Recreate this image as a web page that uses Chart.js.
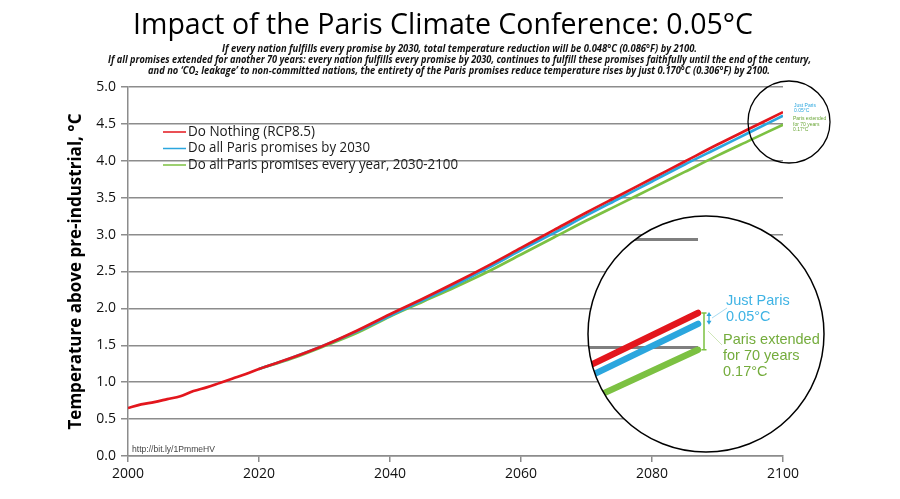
<!DOCTYPE html>
<html>
<head>
<meta charset="utf-8">
<script src="https://cdn.jsdelivr.net/npm/chart.js@4.4.1/dist/chart.umd.min.js"></script>
<style>
html, body { margin: 0; padding: 0; background: #fff; }
canvas { display: block; }
</style>
</head>
<body>
<canvas id="chart" width="900" height="499"></canvas>
<script>
// values
const years = [2000, 2002, 2004, 2006, 2008, 2010, 2012, 2014, 2016, 2018, 2020,
  2025, 2030, 2035, 2040, 2045, 2050, 2055, 2060, 2065, 2070, 2075, 2080, 2085, 2090, 2095, 2100]
const doNothing = [0.65, 0.70, 0.73, 0.77, 0.81, 0.88, 0.93, 0.99, 1.05, 1.11, 1.18,
  1.33, 1.50, 1.70, 1.92, 2.13, 2.35, 2.58, 2.82, 3.06, 3.30, 3.53, 3.76, 3.99, 4.22, 4.44, 4.66]
const parisBy2030 = [null, null, null, null, null, null, null, null, null, null, 1.18,
  1.33, 1.50, 1.69, 1.90, 2.11, 2.32, 2.55, 2.79, 3.02, 3.26, 3.49, 3.72, 3.95, 4.17, 4.39, 4.61]
const parisEveryYear = [null, null, null, null, null, null, null, null, null, null, 1.18,
  1.32, 1.49, 1.67, 1.89, 2.09, 2.29, 2.50, 2.73, 2.96, 3.19, 3.41, 3.63, 3.85, 4.07, 4.28, 4.49]

const seriesNames = ['Do Nothing (RCP8.5)', 'Do all Paris promises by 2030', 'Do all Paris promises every year, 2030-2100']
const seriesColors = ['#e3161d', '#2ba6de', '#7cc142']
const yMin = 0, yMax = 5, yStep = 0.5
const xMin = 2000, xMax = 2100, xStep = 20

const titleText = 'Impact of the Paris Climate Conference: 0.05°C'
const subLines = [
  'If every nation fulfills every promise by 2030, total temperature reduction will be 0.048°C (0.086°F) by 2100.',
  'If all promises extended for another 70 years: every nation fulfills every promise by 2030, continues to fulfill these promises faithfully until the end of the century,',
  'and no ‘CO₂ leakage’ to non-committed nations, the entirety of the Paris promises reduce temperature rises by just 0.170°C (0.306°F) by 2100.'
]
const yTitle = 'Temperature above pre-industrial, °C'
const sourceUrl = 'http://bit.ly/1PmmeHV'
const justParis = ['Just Paris', '0.05°C']
const extended = ['Paris extended', 'for 70 years', '0.17°C']
// magnified grid stubs inside the big circle: [value, first year shown]
const insetGrid = [[5.0, 2096.5], [4.5, 2094.4]]

const FONT = "'Open Sans', 'Noto Sans', sans-serif"
const ARIAL = "'Liberation Sans', Arial, sans-serif"

const toPoints = vals => years.map((x, i) => ({ x, y: vals[i] })).filter(p => p.y !== null)

// draw text squeezed / stretched to a target width
function fitText(ctx, text, x, y, w, font, color, align) {
  ctx.save()
  ctx.font = font
  ctx.fillStyle = color
  ctx.textBaseline = 'middle'
  const m = ctx.measureText(text).width
  ctx.translate(x, y)
  ctx.scale(w / m, 1)
  ctx.textAlign = align || 'center'
  ctx.fillText(text, 0, 0)
  ctx.restore()
}

const decorations = {
  id: 'decorations',
  afterDraw(chart) {
    const ctx = chart.ctx
    const xs = chart.scales.x, ys = chart.scales.y
    const area = chart.chartArea

    // title and notes
    fitText(ctx, titleText, 443, 25, 620, '30px ' + FONT, '#000')
    fitText(ctx, subLines[0], 459.5, 49, 475, 'italic bold 10px ' + FONT, '#111')
    fitText(ctx, subLines[1], 459.5, 60.5, 703, 'italic bold 10px ' + FONT, '#111')
    fitText(ctx, subLines[2], 459, 71.5, 622, 'italic bold 10px ' + FONT, '#111')

    // y axis title
    ctx.save()
    ctx.translate(76, (area.top + area.bottom) / 2)
    ctx.rotate(-Math.PI / 2)
    fitText(ctx, yTitle, 0, 0, 316, 'bold 17px ' + FONT, '#000')
    ctx.restore()

    // legend inside plot
    const legendEnds = [315, 370, 458]
    seriesNames.forEach((name, i) => {
      const ly = 132 + i * 16.5
      ctx.strokeStyle = seriesColors[i]
      ctx.lineWidth = 1.5
      ctx.beginPath()
      ctx.moveTo(163, ly)
      ctx.lineTo(186, ly)
      ctx.stroke()
      fitText(ctx, name, 188, ly, legendEnds[i] - 188, '14px ' + FONT, '#1a1a1a', 'left')
    })

    fitText(ctx, sourceUrl, 132, 450, 83, '9px ' + ARIAL, '#444', 'left')

    // small circle at the end of the lines
    ctx.strokeStyle = '#000'
    ctx.lineWidth = 1.3
    ctx.beginPath()
    ctx.arc(789, 122, 41, 0, Math.PI * 2)
    ctx.stroke()
    ctx.font = '5px ' + ARIAL
    ctx.textAlign = 'left'
    ctx.textBaseline = 'middle'
    ctx.fillStyle = seriesColors[1]
    justParis.forEach((t, i) => ctx.fillText(t, 794, 105.5 + i * 5.5))
    ctx.fillStyle = '#6aa637'
    extended.forEach((t, i) => ctx.fillText(t, 793, 119 + i * 5.5))

    // magnified view
    const cx = 706, cy = 334, r = 118
    const ax = 698, ay = 313, mx = 3, my = 2.93
    const sx = xs.getPixelForValue(years[years.length - 1])
    const sy = ys.getPixelForValue(doNothing[doNothing.length - 1])
    const map = (yr, v) => [ax + (xs.getPixelForValue(yr) - sx) * mx, ay + (ys.getPixelForValue(v) - sy) * my]

    ctx.save()
    ctx.beginPath()
    ctx.arc(cx, cy, r, 0, Math.PI * 2)
    ctx.fillStyle = '#fff'
    ctx.fill()
    ctx.clip()

    ctx.strokeStyle = '#7f7f7f'
    ctx.lineWidth = 3
    insetGrid.forEach(([v, from]) => {
      const a = map(from, v), b = map(xMax, v)
      ctx.beginPath()
      ctx.moveTo(a[0], a[1])
      ctx.lineTo(b[0], b[1])
      ctx.stroke()
    })

    const ends = []
    const sets = [doNothing, parisBy2030, parisEveryYear]
    for (let k = sets.length - 1; k >= 0; k--) {
      ctx.strokeStyle = seriesColors[k]
      ctx.lineWidth = 6.5
      ctx.lineCap = 'round'
      ctx.lineJoin = 'round'
      ctx.beginPath()
      let first = true
      years.forEach((yr, i) => {
        if (yr < 2085 || sets[k][i] === null) return
        const p = map(yr, sets[k][i])
        if (first) { ctx.moveTo(p[0], p[1]); first = false } else ctx.lineTo(p[0], p[1])
        ends[k] = p
      })
      ctx.stroke()
    }
    ctx.restore()

    ctx.strokeStyle = '#000'
    ctx.lineWidth = 1.5
    ctx.beginPath()
    ctx.arc(cx, cy, r, 0, Math.PI * 2)
    ctx.stroke()

    // just Paris marker: double arrow between red and blue ends
    const bx = ends[0][0] + 11
    const t0 = ends[0][1] - 1, t1 = ends[1][1] + 1
    ctx.strokeStyle = seriesColors[1]
    ctx.fillStyle = seriesColors[1]
    ctx.lineWidth = 1.3
    ctx.beginPath()
    ctx.moveTo(bx, t0 + 3)
    ctx.lineTo(bx, t1 - 3)
    ctx.stroke()
    ctx.beginPath()
    ctx.moveTo(bx, t0); ctx.lineTo(bx - 2.5, t0 + 4); ctx.lineTo(bx + 2.5, t0 + 4); ctx.closePath()
    ctx.moveTo(bx, t1); ctx.lineTo(bx - 2.5, t1 - 4); ctx.lineTo(bx + 2.5, t1 - 4); ctx.closePath()
    ctx.fill()
    ctx.strokeStyle = '#8fd0ee'
    ctx.lineWidth = 0.8
    ctx.beginPath()
    ctx.moveTo(bx + 3, ends[0][1] + 5)
    ctx.lineTo(bx + 18, ends[0][1] - 5)
    ctx.stroke()
    ctx.font = '14.5px ' + ARIAL
    ctx.textAlign = 'left'
    ctx.textBaseline = 'middle'
    ctx.fillStyle = '#3fb3e4'
    justParis.forEach((t, i) => ctx.fillText(t, 726, 301 + i * 16))

    // extended marker: bracket between red and green ends
    const gx = ends[0][0] + 6
    ctx.strokeStyle = seriesColors[2]
    ctx.lineWidth = 1.5
    ctx.beginPath()
    ctx.moveTo(gx, ends[0][1])
    ctx.lineTo(gx, ends[2][1])
    ctx.moveTo(gx - 2.5, ends[0][1]); ctx.lineTo(gx + 2.5, ends[0][1])
    ctx.moveTo(gx - 2.5, ends[2][1]); ctx.lineTo(gx + 2.5, ends[2][1])
    ctx.stroke()
    ctx.strokeStyle = '#c3dfa6'
    ctx.lineWidth = 0.8
    ctx.beginPath()
    ctx.moveTo(gx + 4, 331)
    ctx.lineTo(gx + 18, 345)
    ctx.stroke()
    ctx.fillStyle = '#74ac3c'
    extended.forEach((t, i) => ctx.fillText(t, 723, 340 + i * 16))
  }
}

new Chart(document.getElementById('chart'), {
  type: 'line',
  data: {
    datasets: [
      { label: seriesNames[0], data: toPoints(doNothing), borderColor: seriesColors[0] },
      { label: seriesNames[1], data: toPoints(parisBy2030), borderColor: seriesColors[1] },
      { label: seriesNames[2], data: toPoints(parisEveryYear), borderColor: seriesColors[2] }
    ]
  },
  options: {
    responsive: false,
    animation: false,
    layout: { padding: { top: 87, right: 117, left: 0, bottom: 0 } },
    elements: {
      point: { radius: 0 },
      line: { borderWidth: 2.7, tension: 0.3, cubicInterpolationMode: 'monotone' }
    },
    plugins: { legend: { display: false }, tooltip: { enabled: false } },
    scales: {
      x: {
        type: 'linear', min: xMin, max: xMax,
        ticks: { stepSize: xStep, callback: v => String(v), color: '#111', font: { family: FONT, size: 14 }, padding: 4 },
        grid: { drawOnChartArea: false, color: '#8c8c8c', lineWidth: 1.5, tickLength: 6 },
        border: { color: '#8c8c8c', width: 1.5 },
        afterFit: s => { s.height = 43 }
      },
      y: {
        min: yMin, max: yMax,
        ticks: { stepSize: yStep, callback: v => v.toFixed(1), color: '#111', font: { family: FONT, size: 14 }, padding: 5 },
        grid: { color: '#8c8c8c', lineWidth: 1.5, tickLength: 7 },
        border: { color: '#8c8c8c', width: 1.5 },
        afterFit: s => { s.width = 128 }
      }
    }
  },
  plugins: [decorations]
})
</script>
</body>
</html>
